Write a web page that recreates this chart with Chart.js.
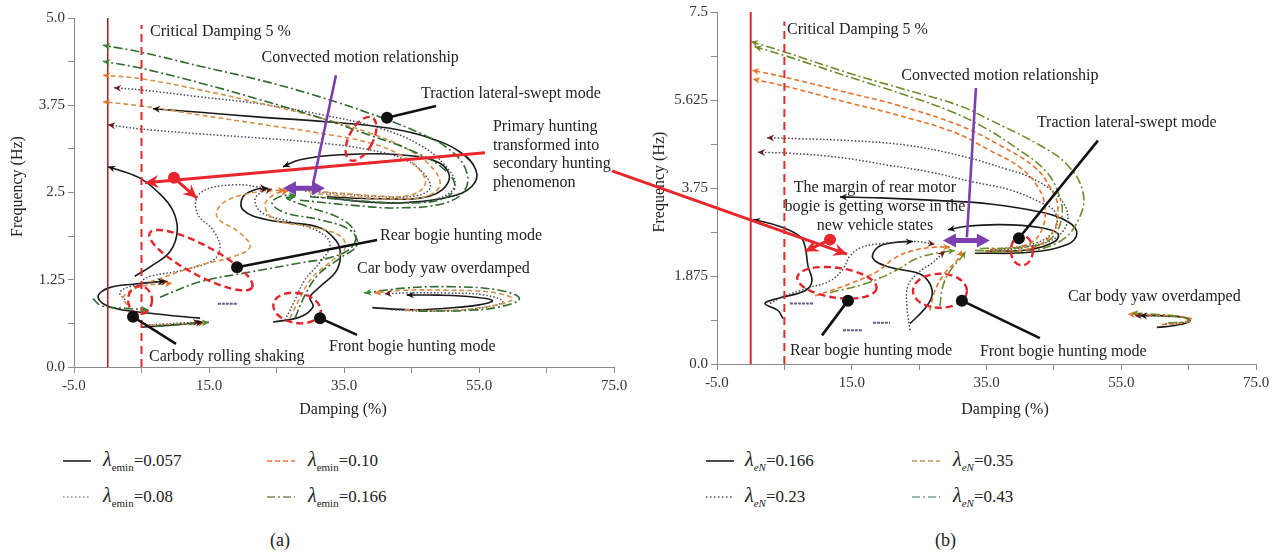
<!DOCTYPE html>
<html><head><meta charset="utf-8">
<script src="https://cdn.jsdelivr.net/npm/chart.js@4.4.1/dist/chart.umd.min.js"></script>
<style>
body{margin:0;background:#fff;width:1277px;height:555px;overflow:hidden;position:relative;font-family:"Liberation Serif","DejaVu Serif",serif;color:#222}
canvas{position:absolute;top:0}
#ca{left:0}#cb{left:640px}#ov{left:0;pointer-events:none}
.lg{position:absolute;font-size:17px;line-height:20px;white-space:nowrap}
.lg i.l{font-size:20px}
.lg sub{font-size:11px;vertical-align:-5px;line-height:0}
.sw{position:absolute}
.cap{position:absolute;font-size:18px;line-height:22px}
</style></head><body>
<canvas id="ca" width="640" height="420"></canvas>
<canvas id="cb" width="637" height="420"></canvas>
<canvas id="ov" width="1277" height="420"></canvas>
<div id="legend"></div>
<script>
const SERIF = '"Liberation Serif","DejaVu Serif",serif';

// reference lines
const stabLimit = 0, critDamp = 5;
// tick setup
const xMin = -5, xMax = 75, xStep = 10, xLabelStep = 20;
const yA = {max: 5, step: 0.625, major: 1.25};
const yB = {max: 7.5, step: 0.9375, major: 1.875};
const lamA = ['0.057', '0.08', '0.10', '0.166'];
const lamB = ['0.166', '0.23', '0.35', '0.43'];

// ---- (a) λemin = 0.057 (solid)
const a057Trac = [[33.67,2.41],[38.85,2.36],[44.78,2.36],[50.70,2.44],[53.96,2.59],[54.56,2.82],[52.19,3.08],[47.74,3.28],[41.81,3.42],[32.93,3.51],[22.56,3.58],[13.67,3.65],[6.70,3.70]];
const a057Loop = [[32.48,2.44],[40.33,2.41],[47.74,2.45],[50.56,2.68],[49.22,2.92],[43.30,3.04],[34.41,3.04],[28.48,2.97],[25.96,2.87]];
const a057Hunt = [[4.0,1.30],[6.5,1.45],[9.2,1.65],[10.3,1.95],[9.6,2.25],[7.5,2.50],[4.5,2.72],[0.05,2.87]];
const a057Front = [[24.48,0.645],[28.48,0.716],[30.41,0.86],[29.96,1.00],[31.44,1.15],[33.96,1.39],[34.41,1.68],[33.37,1.86],[31.0,2.01],[23.59,2.11],[20.04,2.25],[20.04,2.44],[21.81,2.54],[23.74,2.56]];
const a057Yaw = [[39.2,0.85],[45,0.82],[50,0.84],[55,0.89],[57,0.95],[54.5,1.0],[49,1.03],[44.3,1.03]];
const a057Roll1 = [[13.67,0.70],[6.26,0.77],[0.33,0.86],[-1.44,1.00],[0.04,1.13],[4.04,1.19],[8.48,1.23]];
const a057Roll2 = [[4.93,0.57],[9.22,0.60],[14.11,0.64]];
// ---- (a) λemin = 0.08 (dotted)
const a08Top1 = [[29.96,2.45],[35.89,2.39],[43.30,2.35],[49.22,2.42],[51.44,2.61],[49.96,2.89],[46.26,3.18],[40.33,3.42],[31.44,3.62],[22.56,3.77],[13.67,3.87],[4.93,3.97],[0.93,4.00]];
const a08Top2 = [[29.22,2.52],[34.41,2.48],[40.33,2.44],[45.52,2.45],[47.74,2.56],[47.00,2.75],[44.04,2.97],[38.85,3.11],[31.44,3.21],[22.56,3.28],[13.67,3.34],[4.93,3.41],[0.04,3.47]];
const a08Rear = [[5.22,1.25],[6.26,1.30],[11.15,1.39],[15.59,1.53],[16.63,1.72],[15.59,1.96],[13.22,2.21],[13.67,2.49],[18.56,2.61],[23.59,2.56]];
const a08Front = [[26.26,0.67],[27.74,0.96],[29.22,1.25],[31.44,1.50],[32.93,1.75],[31.44,1.93],[27.0,2.08],[22.85,2.21],[21.81,2.39],[22.85,2.51],[24.33,2.55]];
const a08Yaw = [[42,0.82],[48,0.8],[54,0.83],[58.5,0.93],[56,1.03],[50,1.06],[44,1.06],[41,1.05]];
const a08Roll1 = [[2.56,0.96],[1.81,1.07],[4.04,1.17],[8.93,1.23]];
const a08Roll2 = [[5.52,0.60],[13.67,0.645]];
const a08Mark = [[16.3,0.905],[19.3,0.905]];
// ---- (a) λemin = 0.10 (dashed)
const a10Top1 = [[29.96,2.49],[35.89,2.44],[41.81,2.41],[47.00,2.44],[49.22,2.61],[47.74,2.89],[44.04,3.14],[38.85,3.35],[31.44,3.57],[22.56,3.78],[13.67,3.97],[4.93,4.13],[-0.70,4.18]];
const a10Top2 = [[28.48,2.54],[34.41,2.49],[40.33,2.45],[44.78,2.46],[47.00,2.61],[46.26,2.82],[43.30,3.04],[38.85,3.21],[31.44,3.35],[22.56,3.48],[13.67,3.61],[4.93,3.74],[-0.70,3.80]];
const a10Rear = [[6.26,1.22],[13.67,1.46],[18.56,1.58],[21.07,1.72],[19.59,1.92],[16.19,2.15],[17.07,2.35],[21.07,2.49],[26.26,2.54]];
const a10Front = [[27.0,0.70],[28.48,0.99],[30.26,1.28],[32.93,1.50],[35.15,1.70],[34.41,1.88],[29.96,2.01],[24.78,2.11],[23.30,2.32],[24.78,2.48],[26.70,2.52]];
const a10Yaw = [[44,0.82],[50,0.81],[56,0.86],[60,0.97],[57,1.07],[50,1.1],[44,1.1],[39.5,1.06]];
const a10Roll1 = [[2.85,0.89],[2.26,1.00],[4.78,1.15],[9.52,1.20]];
const a10Roll2 = [[6.26,0.60],[14.4,0.63]];
// ---- (a) λemin = 0.166 (dash-dot)
const a166Top1 = [[28.48,2.39],[35.89,2.32],[43.30,2.28],[49.96,2.35],[52.93,2.54],[53.07,2.82],[50.70,3.11],[46.26,3.35],[40.33,3.58],[31.44,3.87],[22.56,4.11],[13.67,4.31],[4.93,4.51],[-0.70,4.61]];
const a166Top2 = [[29.96,2.44],[37.37,2.38],[44.78,2.35],[49.96,2.42],[51.44,2.61],[49.22,2.88],[44.78,3.11],[38.85,3.32],[31.44,3.57],[22.56,3.83],[13.67,4.07],[4.93,4.28],[-0.70,4.38]];
const a166Rear = [[7.74,1.00],[13.67,1.22],[21.07,1.36],[28.48,1.49],[33.37,1.58],[36.19,1.72],[36.63,1.93],[34.41,2.13],[29.5,2.30],[26.5,2.42],[27.8,2.44]];
const a166Front = [[27.74,0.70],[29.22,1.03],[31.15,1.32],[34.41,1.56],[36.93,1.75],[35.89,1.96],[31.44,2.11],[26.26,2.21],[24.33,2.35],[25.81,2.45],[27.89,2.46]];
const a166Yaw = [[46,0.8],[53,0.81],[58,0.86],[61,0.98],[58,1.1],[51,1.15],[44,1.13],[38,1.06]];
const a166Roll1 = [[-2.2,0.98],[-1.0,0.88],[2.5,0.84],[6.0,0.82]];
const a166Roll2 = [[7.0,0.58],[15.0,0.64]];

// ---- (b) λeN = 0.166 (solid)
const b166Trac = [[33.28,2.36],[41.44,2.38],[47.08,2.55],[48.41,2.78],[47.08,3.03],[42.92,3.24],[35.50,3.41],[28.08,3.48],[19.18,3.54],[13.25,3.56]];
const b166Loop = [[34.76,2.40],[41.44,2.44],[45.15,2.61],[45.59,2.78],[42.92,2.91],[36.99,2.97],[31.80,2.93],[29.27,2.86]];
const b166Hunt = [[4.79,0.97],[4.05,1.14],[2.12,1.29],[4.35,1.41],[8.06,1.56],[9.09,1.77],[8.50,2.09],[8.06,2.51],[7.31,2.72],[4.35,2.93],[0.34,3.08]];
const b166Front = [[23.64,0.86],[25.86,1.18],[26.90,1.45],[26.60,1.71],[25.12,1.92],[20.67,2.06],[18.15,2.25],[18.89,2.49],[21.41,2.59],[24.08,2.61]];
const b166Yaw = [[60.28,0.78],[62.95,0.82],[65.18,0.91],[64.44,0.99],[60.73,1.03],[57.76,1.03]];
// ---- (b) λeN = 0.23 (dotted)
const b23Top1 = [[35.50,2.40],[41.44,2.51],[45.59,2.72],[47.08,3.14],[45.45,3.60],[41.44,3.98],[38.03,4.15],[31.05,4.44],[23.19,4.66],[14.73,4.76],[7.31,4.80],[2.42,4.82]];
const b23Top2 = [[36.25,2.44],[42.18,2.57],[45.15,2.86],[45.15,3.24],[42.92,3.45],[38.47,3.71],[32.98,3.88],[26.60,4.09],[20.67,4.23],[13.25,4.40],[5.83,4.49],[1.08,4.51]];
const b23Rear = [[2.86,1.29],[5.09,1.45],[8.50,1.62],[11.77,1.77],[13.69,2.02],[14.73,2.30],[16.51,2.49],[19.93,2.57],[24.38,2.61],[27.34,2.55]];
const b23Front = [[23.64,0.72],[23.19,1.24],[23.34,1.66],[24.82,1.94],[26.90,2.15],[28.83,2.40]];
const b23Yaw = [[61.5,0.86],[64.8,0.9],[65,0.97],[61,1.02],[57,1.03]];
const b23Mark1 = [[5.83,1.29],[9.24,1.29]];
const b23Mark2 = [[18.15,0.88],[20.67,0.88]];
const b23Mark3 = [[13.69,0.72],[16.66,0.72]];
// ---- (b) λeN = 0.35 (dashed)
const b35Top1 = [[34.76,2.40],[41.44,2.46],[44.70,2.78],[45.59,3.35],[44.41,3.77],[42.18,4.19],[36.99,4.66],[31.05,5.08],[22.15,5.50],[14.73,5.77],[5.09,6.11],[0.19,6.26]];
const b35Top2 = [[35.50,2.44],[41.14,2.55],[43.22,2.86],[43.66,3.35],[42.63,3.77],[39.96,4.19],[35.50,4.55],[30.31,4.93],[22.15,5.29],[14.73,5.56],[5.09,5.92],[0.34,6.07]];
const b35Rear = [[9.54,1.45],[14.73,1.71],[18.89,1.98],[21.11,2.23],[23.64,2.40],[27.34,2.49],[29.57,2.49]];
const b35Front = [[26.60,1.14],[27.34,1.56],[28.83,1.94],[30.76,2.23],[31.35,2.42]];
const b35Yaw = [[61,0.84],[64.5,0.88],[65.5,0.96],[62,1.03],[58,1.05],[56,1.06]];
// ---- (b) λeN = 0.43 (dash-dot)
const b43Top1 = [[33.28,2.42],[39.96,2.40],[45.89,2.61],[48.86,3.14],[49.30,3.67],[47.08,4.23],[42.92,4.66],[35.50,5.20],[31.05,5.50],[22.15,5.88],[14.73,6.19],[4.79,6.66],[0.04,6.87]];
const b43Top2 = [[34.02,2.46],[40.70,2.49],[44.41,2.65],[46.19,3.14],[45.59,3.67],[43.66,4.13],[39.96,4.55],[34.76,5.03],[29.57,5.39],[22.15,5.77],[14.73,6.11],[5.09,6.57],[0.59,6.76]];
const b43Rear = [[11.77,1.52],[16.96,1.71],[21.41,1.98],[24.38,2.23],[27.34,2.36],[30.31,2.42]];
const b43Front = [[28.09,1.24],[28.53,1.66],[29.57,1.98],[31.05,2.23],[31.94,2.40]];
const b43Yaw = [[62,0.87],[65,0.92],[64,1.0],[60,1.06],[56.5,1.08]];

// line styles
const BLK = {borderColor:'#1a1a1a', borderWidth:1.6, arrowColor:'#111'};
const DOT_A = {borderColor:'#4a4a5e', borderWidth:1.5, borderDash:[1.5,2], arrowColor:'#6b1a1a'};
const ORA_A = {borderColor:'#d4924a', borderWidth:1.6, borderDash:[5,3], arrowColor:'#e87020'};
const GRN_A = {borderColor:'#2f6a2f', borderWidth:1.6, borderDash:[9,3,2,3], arrowColor:'#2e8b2e'};
const DOT_B = {borderColor:'#444', borderWidth:1.5, borderDash:[1.5,2], arrowColor:'#6b1a1a'};
const ORA_B = {borderColor:'#e8742c', borderWidth:1.6, borderDash:[5,3], arrowColor:'#e8742c'};
const OLV_B = {borderColor:'#6e8b2a', borderWidth:1.6, borderDash:[9,3,2,3], arrowColor:'#6e8b2a'};
const MARK = {borderColor:'#6a5a8a', borderWidth:2, borderDash:[3,1]};

function line(arr, style, arrow = true) {
  return Object.assign({data: arr.map(p => ({x: p[0], y: p[1]})), showLine: true, pointRadius: 0,
    tension: 0.4, fill: false, borderCapStyle: 'butt', arrow}, style);
}
function ref(arr, style) {
  return Object.assign({data: arr.map(p => ({x: p[0], y: p[1]})), showLine: true, pointRadius: 0, tension: 0}, style);
}

const dsA = [
  ref([[stabLimit,0],[stabLimit,yA.max]], {borderColor:'#a02828', borderWidth:1.6}),
  ref([[critDamp,0],[critDamp,4.9]], {borderColor:'#e02b2b', borderWidth:2, borderDash:[8,5]}),
  ...[a166Top1,a166Top2,a166Rear,a166Front,a166Yaw,a166Roll1,a166Roll2].map(a => line(a, GRN_A)),
  ...[a10Top1,a10Top2,a10Rear,a10Front,a10Yaw,a10Roll1,a10Roll2].map(a => line(a, ORA_A)),
  ...[a08Top1,a08Top2,a08Rear,a08Front,a08Yaw,a08Roll1,a08Roll2].map(a => line(a, DOT_A)),
  line(a08Mark, MARK, false),
  ...[a057Trac,a057Loop,a057Hunt,a057Front,a057Yaw,a057Roll1,a057Roll2].map(a => line(a, BLK)),
];
const dsB = [
  ref([[stabLimit,0],[stabLimit,yB.max]], {borderColor:'#d42a2a', borderWidth:2}),
  ref([[critDamp,0],[critDamp,7.3]], {borderColor:'#e02b2b', borderWidth:2, borderDash:[8,5]}),
  ...[b43Top1,b43Top2,b43Rear,b43Front,b43Yaw].map(a => line(a, OLV_B)),
  ...[b35Top1,b35Top2,b35Rear,b35Front,b35Yaw].map(a => line(a, ORA_B)),
  ...[b23Top1,b23Top2,b23Rear,b23Front,b23Yaw].map(a => line(a, DOT_B)),
  ...[b23Mark1,b23Mark2,b23Mark3].map(a => line(a, MARK, false)),
  ...[b166Trac,b166Loop,b166Hunt,b166Front,b166Yaw].map(a => line(a, BLK)),
];

// annotations (data coordinates)
const annA = [
  {t:'text', x:6.26, y:4.80, s:'Critical Damping 5 %'},
  {t:'text', x:37.4, y:4.43, s:'Convected motion relationship', align:'center'},
  {t:'text', x:46.4, y:3.91, s:'Traction lateral-swept mode'},
  {t:'text', x:57.07, y:3.44, s:'Primary hunting'},
  {t:'text', x:57.07, y:3.17, s:'transformed into'},
  {t:'text', x:57.07, y:2.91, s:'secondary hunting'},
  {t:'text', x:57.07, y:2.64, s:'phenomenon'},
  {t:'text', x:40.33, y:1.88, s:'Rear bogie hunting mode'},
  {t:'text', x:36.93, y:1.40, s:'Car body yaw overdamped'},
  {t:'text', x:32.78, y:0.29, s:'Front bogie hunting mode'},
  {t:'text', x:6.11, y:0.14, s:'Carbody rolling shaking'},
  {t:'ell', x:37.52, y:3.27, rx:12, ry:24, rot:28},
  {t:'ell', x:13.8, y:1.53, rx:58, ry:15, rot:28},
  {t:'ell', x:4.78, y:0.96, rx:12, ry:14, rot:0},
  {t:'ell', x:28.04, y:0.845, rx:24, ry:15, rot:10},
  {t:'ptr', x1:48.63, y1:3.74, x2:41.37, y2:3.57},
  {t:'ptr', x1:39.9, y1:1.82, x2:19.15, y2:1.43},
  {t:'ptr', x1:36.93, y1:0.46, x2:31.44, y2:0.70},
  {t:'ptr', x1:10.11, y1:0.33, x2:3.74, y2:0.72},
  {t:'red', x1:55.89, y1:3.07, x2:5.52, y2:2.64},
  {t:'red', x1:9.81, y1:2.71, x2:13.2, y2:2.42},
  {t:'rdot', x:9.81, y:2.71},
  {t:'pline', x1:33.81, y1:4.18, x2:30.41, y2:2.62},
  {t:'pdbl', x1:25.96, x2:32.19, y:2.56},
];
const annB = [
  {t:'text', x:5.39, y:7.12, s:'Critical Damping 5 %'},
  {t:'text', x:36.99, y:6.15, s:'Convected motion relationship', align:'center'},
  {t:'text', x:42.48, y:5.14, s:'Traction lateral-swept mode'},
  {t:'text', x:18.44, y:3.75, s:'The margin of rear motor', align:'center'},
  {t:'text', x:18.44, y:3.35, s:'bogie is getting worse in the', align:'center'},
  {t:'text', x:18.44, y:2.95, s:'new vehicle states', align:'center'},
  {t:'text', x:5.83, y:0.29, s:'Rear bogie hunting mode'},
  {t:'text', x:34.02, y:0.27, s:'Front bogie hunting mode'},
  {t:'text', x:47.08, y:1.43, s:'Car body yaw overdamped'},
  {t:'ell', x:40.25, y:2.42, rx:11, ry:15, rot:0},
  {t:'ell', x:12.8, y:1.73, rx:40, ry:15, rot:8},
  {t:'ell', x:28.09, y:1.56, rx:27, ry:17, rot:0},
  {t:'ptr', x1:51.53, y1:4.76, x2:39.81, y2:2.68},
  {t:'ptr', x1:10.58, y1:0.61, x2:14.44, y2:1.35},
  {t:'ptr', x1:42.92, y1:0.55, x2:31.35, y2:1.35},
  {t:'red', x1:11.77, y1:2.65, x2:8.06, y2:2.40},
  {t:'rdot', x:11.77, y:2.65},
  {t:'pline', x1:33.43, y1:5.88, x2:32.09, y2:2.70},
  {t:'pdbl', x1:28.53, x2:35.50, y:2.63},
];

function head(ctx, x1, y1, x2, y2, s, col) {
  const a = Math.atan2(y2 - y1, x2 - x1);
  ctx.save(); ctx.fillStyle = col; ctx.setLineDash([]); ctx.beginPath();
  ctx.moveTo(x2, y2);
  ctx.lineTo(x2 - s * Math.cos(a - 0.45), y2 - s * Math.sin(a - 0.45));
  ctx.lineTo(x2 - s * 0.6 * Math.cos(a), y2 - s * 0.6 * Math.sin(a));
  ctx.lineTo(x2 - s * Math.cos(a + 0.45), y2 - s * Math.sin(a + 0.45));
  ctx.closePath(); ctx.fill(); ctx.restore();
}

const arrowPlugin = {
  id: 'arrows',
  afterDatasetsDraw(chart) {
    chart.data.datasets.forEach((ds, i) => {
      if (!ds.arrow) return;
      const pts = chart.getDatasetMeta(i).data, n = pts.length;
      if (n < 2) return;
      head(chart.ctx, pts[n-2].x, pts[n-2].y, pts[n-1].x, pts[n-1].y, 8, ds.arrowColor);
    });
  }
};

function makeAnno(items, titles) {
  return {
    id: 'anno',
    afterDatasetsDraw(chart) {
      const {ctx, scales: {x, y}, chartArea} = chart;
      const X = v => x.getPixelForValue(v), Y = v => y.getPixelForValue(v);
      ctx.save();
      for (const it of items) {
        ctx.setLineDash([]);
        if (it.t === 'text') {
          ctx.font = '16px ' + SERIF; ctx.fillStyle = '#222';
          ctx.textBaseline = 'middle'; ctx.textAlign = it.align || 'left';
          ctx.fillText(it.s, X(it.x), Y(it.y));
        } else if (it.t === 'ell') {
          ctx.save(); ctx.translate(X(it.x), Y(it.y)); ctx.rotate(it.rot * Math.PI / 180);
          ctx.beginPath(); ctx.ellipse(0, 0, it.rx, it.ry, 0, 0, Math.PI * 2);
          ctx.setLineDash([7, 4]); ctx.strokeStyle = '#e3262b'; ctx.lineWidth = 2.4; ctx.stroke();
          ctx.restore();
        } else if (it.t === 'ptr') {
          ctx.strokeStyle = '#111'; ctx.lineWidth = 2.6; ctx.beginPath();
          ctx.moveTo(X(it.x1), Y(it.y1)); ctx.lineTo(X(it.x2), Y(it.y2)); ctx.stroke();
          ctx.fillStyle = '#111'; ctx.beginPath(); ctx.arc(X(it.x2), Y(it.y2), 6, 0, Math.PI * 2); ctx.fill();
        } else if (it.t === 'red') {
          ctx.strokeStyle = '#e8262b'; ctx.lineWidth = 3; ctx.beginPath();
          ctx.moveTo(X(it.x1), Y(it.y1)); ctx.lineTo(X(it.x2), Y(it.y2)); ctx.stroke();
          head(ctx, X(it.x1), Y(it.y1), X(it.x2), Y(it.y2), 15, '#e8262b');
        } else if (it.t === 'rdot') {
          ctx.fillStyle = '#e8262b'; ctx.beginPath(); ctx.arc(X(it.x), Y(it.y), 6, 0, Math.PI * 2); ctx.fill();
        } else if (it.t === 'pline') {
          ctx.strokeStyle = '#7b3fb0'; ctx.lineWidth = 2.6; ctx.beginPath();
          ctx.moveTo(X(it.x1), Y(it.y1)); ctx.lineTo(X(it.x2), Y(it.y2)); ctx.stroke();
        } else if (it.t === 'pdbl') {
          const L = X(it.x1), R = X(it.x2), c = Y(it.y), h = 7, hl = 13, s = 2.5;
          ctx.fillStyle = '#7b3fb0'; ctx.beginPath();
          ctx.moveTo(L, c); ctx.lineTo(L + hl, c - h); ctx.lineTo(L + hl, c - s); ctx.lineTo(R - hl, c - s);
          ctx.lineTo(R - hl, c - h); ctx.lineTo(R, c); ctx.lineTo(R - hl, c + h); ctx.lineTo(R - hl, c + s);
          ctx.lineTo(L + hl, c + s); ctx.lineTo(L + hl, c + h); ctx.closePath(); ctx.fill();
        }
      }
      // axis titles
      ctx.font = '16px ' + SERIF; ctx.fillStyle = '#222'; ctx.textAlign = 'center'; ctx.textBaseline = 'middle';
      ctx.fillText('Damping (%)', titles.xc, titles.xy);
      ctx.save(); ctx.translate(titles.yx, (chartArea.top + chartArea.bottom) / 2 - 6);
      ctx.rotate(-Math.PI / 2); ctx.fillText('Frequency (Hz)', 0, 0); ctx.restore();
      ctx.restore();
    }
  };
}

function fmt(v) {
  const r = Math.round(v * 1000) / 1000;
  return Math.abs(r * 10 - Math.round(r * 10)) < 1e-9 ? r.toFixed(1) : String(r);
}
function scalesFor(ycfg, yw, xh) {
  const tickFont = {family: SERIF, size: 15};
  return {
    x: {type: 'linear', min: xMin, max: xMax,
      ticks: {stepSize: xStep, autoSkip: false, maxRotation: 0, color: '#333', font: tickFont, padding: 4,
        callback: v => (Math.abs((v - xMin) % xLabelStep) < 1e-6 ? v.toFixed(1) : '')},
      grid: {drawOnChartArea: false, drawTicks: true, tickLength: 6, color: '#8a8a8a'},
      border: {color: '#8a8a8a', width: 1},
      afterFit: s => { s.height = xh; }},
    y: {type: 'linear', min: 0, max: ycfg.max,
      ticks: {stepSize: ycfg.step, autoSkip: false, color: '#333', font: tickFont, padding: 3,
        callback: v => (Math.abs(v / ycfg.major - Math.round(v / ycfg.major)) < 1e-6 ? fmt(v) : '')},
      grid: {drawOnChartArea: false, drawTicks: true, tickLength: 6, color: '#8a8a8a'},
      border: {color: '#8a8a8a', width: 1},
      afterFit: s => { s.width = yw; }}
  };
}
function config(datasets, ycfg, yw, xh, pad, items, titles) {
  return {
    type: 'scatter',
    data: {datasets},
    options: {
      responsive: false, animation: false, devicePixelRatio: 1,
      layout: {padding: pad},
      plugins: {legend: {display: false}, tooltip: {enabled: false}},
      scales: scalesFor(ycfg, yw, xh)
    },
    plugins: [arrowPlugin, makeAnno(items, titles)]
  };
}

const chartA = new Chart(document.getElementById('ca'),
  config(dsA, yA, 74, 53, {left: 0, right: 26, top: 18, bottom: 0}, annA, {xc: 343, xy: 410, yx: 18}));
const chartB = new Chart(document.getElementById('cb'),
  config(dsB, yB, 77, 56, {left: 0, right: 21, top: 8, bottom: 0}, annB, {xc: 365, xy: 410, yx: 20}));

// red arrow crossing from (a) to (b)
(function () {
  const ov = document.getElementById('ov').getContext('2d');
  const x1 = chartA.scales.x.getPixelForValue(74.7), y1 = chartA.scales.y.getPixelForValue(2.81);
  const x2 = 640 + chartB.scales.x.getPixelForValue(14.29), y2 = chartB.scales.y.getPixelForValue(2.34);
  ov.strokeStyle = '#e8262b'; ov.lineWidth = 3; ov.beginPath(); ov.moveTo(x1, y1); ov.lineTo(x2, y2); ov.stroke();
  head(ov, x1, y1, x2, y2, 15, '#e8262b');
})();

// legends
const lgStyle = {
  a: [{c:'#222', d:''}, {c:'#8a86a8', d:'1.5 2.5'}, {c:'#f07a3a', d:'5 3'}, {c:'#7d8a5c', d:'8 3 2 3'}],
  b: [{c:'#222', d:''}, {c:'#555', d:'1.5 2.5'}, {c:'#b8966a', d:'5 3'}, {c:'#7fa07f', d:'8 3 2 3'}]
};
function buildLegend(vals, styles, swX, txX, sub) {
  const rows = [461, 497];
  let html = '';
  vals.forEach((v, i) => {
    const col = i < 2 ? 0 : 1, row = i % 2, st = styles[i], cy = rows[row];
    html += `<svg class="sw" style="left:${swX[col]}px;top:${cy - 9}px" width="30" height="18">` +
      `<line x1="0" y1="9" x2="28" y2="9" stroke="${st.c}" stroke-width="1.6" stroke-dasharray="${st.d}"/></svg>`;
    html += `<div class="lg" style="left:${txX[col]}px;top:${cy - 12}px"><i class="l">λ</i><sub>${sub}</sub>=${v}</div>`;
  });
  return html;
}
document.getElementById('legend').innerHTML =
  buildLegend(lamA, lgStyle.a, [63, 267], [103, 308], 'emin') +
  buildLegend(lamB, lgStyle.b, [706, 912], [745, 953], '<i>eN</i>') +
  '<div class="cap" style="left:270px;top:529px">(a)</div>' +
  '<div class="cap" style="left:935px;top:529px">(b)</div>';
</script>
</body></html>
